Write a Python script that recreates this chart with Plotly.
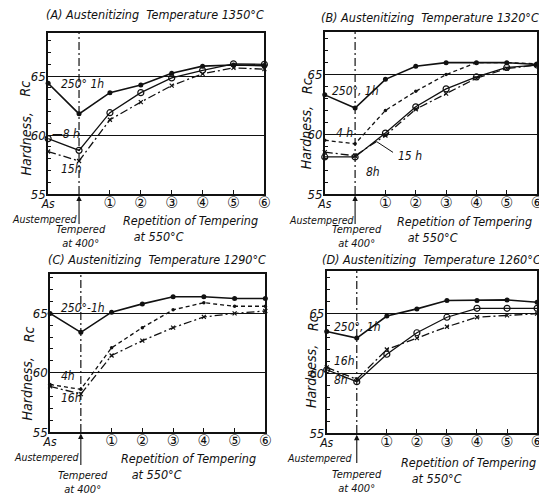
import plotly.graph_objects as go

# ---------------- data ----------------
stage_x = [0, 1, 2, 3, 4, 5, 6, 7]          # As austempered, tempered 400, repetitions 1..6
tick_vals = [0, 2, 3, 4, 5, 6, 7]
tick_labels = ["As", "①", "②", "③", "④", "⑤", "⑥"]

titles = [
    "(A) Austenitizing  Temperature 1350°C",
    "(B) Austenitizing  Temperature 1320°C",
    "(C) Austenitizing  Temperature 1290°C",
    "(D) Austenitizing  Temperature 1260°C",
]

A_1h = [64.4, 61.8, 63.6, 64.25, 65.25, 65.85, 65.95, 65.9]
A_8h = [59.7, 58.7, 61.9, 63.6, 64.85, 65.5, 66.05, 66.0]
A_15h = [58.6, 57.8, 61.3, 62.8, 64.2, 65.2, 65.7, 65.6]

B_1h = [63.3, 62.2, 64.6, 65.7, 66.0, 66.0, 66.0, 65.85]
B_4h = [59.5, 59.2, 62.0, 63.6, 65.0, 66.0, 66.0, 65.9]
B_8h = [58.1, 58.1, 60.1, 62.3, 63.8, 64.8, 65.6, 65.8]
B_16h = [58.5, 58.2, 59.9, 62.1, 63.4, 64.7, 65.5, 65.8]

C_1h = [65.0, 63.4, 65.1, 65.8, 66.4, 66.4, 66.25, 66.25]
C_4h = [59.0, 58.6, 62.1, 63.8, 65.3, 65.9, 65.6, 65.6]
C_16h = [58.85, 58.2, 61.45, 62.7, 63.8, 64.7, 65.0, 65.2]

D_1h = [63.5, 62.95, 64.8, 65.4, 66.1, 66.1, 66.15, 65.95]
D_8h = [60.3, 59.3, 61.6, 63.4, 64.7, 65.45, 65.45, 65.45]
D_16h = [60.5, 59.5, 62.0, 62.95, 63.9, 64.7, 64.85, 65.0]

# ---------------- page geometry (page body has an 8px margin) ----------------
OFF = 8
W, H = 547 - OFF, 503 - OFF


def fx(px):
    return (px - OFF) / W


def fy(py):
    return 1 - (py - OFF) / H


FONT = "DejaVu Sans Condensed, Liberation Sans Narrow, DejaVu Sans, sans-serif"
INK = "#111111"

tick_text = [t if t == "As" else '<span style="font-size:16px">' + t + "</span>" for t in tick_labels]

STY = {
    "1h":  dict(line=dict(color=INK, width=1.6, dash="solid"),
                marker=dict(symbol="circle", size=5, color=INK)),
    "8h":  dict(line=dict(color=INK, width=1.3, dash="solid"),
                marker=dict(symbol="circle-open", size=6, color=INK, line=dict(width=1.2))),
    "4h":  dict(line=dict(color=INK, width=1.3, dash="4px,3px"),
                marker=dict(symbol="circle", size=3.5, color=INK)),
    "16h": dict(line=dict(color=INK, width=1.3, dash="8px,3px,2px,3px"),
                marker=dict(symbol="x-thin", size=4, color=INK, line=dict(width=1.2, color=INK))),
}

# box = (left, right, top, bottom) in page pixels; text positions in page pixels
panels = [
    dict(series=[("1h", A_1h), ("8h", A_8h), ("16h", A_15h)],
         box=(41, 263, 33, 197), ytop=68.7,
         title=(151, 15), hard=(18, 146), rc=(17, 90), aust=(38, 222),
         temp=(75, 225), arrow_end=229, rep=(116, 214),
         labels=[("250° 1h", 0.35, 64.35), ("—8 h", 0.05, 60.1), ("15h", 0.35, 57.1)]),
    dict(series=[("1h", B_1h), ("4h", B_4h), ("8h", B_8h), ("16h", B_16h)],
         box=(325, 543, 32, 197), ytop=68.6,
         title=(433, 18), hard=(306, 140), rc=(306, 87), aust=(322, 223),
         temp=(358, 225), arrow_end=229, rep=(397, 215),
         labels=[("250°, 1h", 0.18, 63.6), ("4 h", 0.3, 60.1), ("15 h", 2.35, 58.2), ("8h", 1.3, 56.8)]),
    dict(series=[("1h", C_1h), ("4h", C_4h), ("16h", C_16h)],
         box=(43, 264, 278, 439), ytop=68.35,
         title=(153, 264), hard=(19, 395), rc=(21, 340), aust=(40, 464),
         temp=(77, 475), arrow_end=474, rep=(114, 456),
         labels=[("250°-1h", 0.3, 65.45), ("4h", 0.3, 59.7), ("16h", 0.3, 57.9)]),
    dict(series=[("1h", D_1h), ("8h", D_8h), ("16h", D_16h)],
         box=(327, 543, 275, 440), ytop=68.6,
         title=(435, 264), hard=(311, 383), rc=(313, 328), aust=(320, 465),
         temp=(358, 474), arrow_end=472, rep=(401, 460),
         labels=[("250°, 1h", 0.18, 63.9), ("16h", 0.18, 61.0), ("8h", 0.18, 59.4)]),
]

fig = go.Figure()
annotations = []
shapes = []
layout_axes = {}


def txt(text, px, py, size, xanchor="center", yanchor="middle", angle=0, align="center"):
    return dict(text=text, xref="paper", yref="paper", x=fx(px), y=fy(py),
                xanchor=xanchor, yanchor=yanchor, textangle=angle, align=align,
                showarrow=False,
                font=dict(family=FONT, size=size, color=INK, style="italic"))


for i, p in enumerate(panels):
    n = "" if i == 0 else str(i + 1)
    xa, ya = "x" + n, "y" + n
    yd = ya + " domain"
    x0, x1, y0, y1 = p["box"]
    for key, vals in p["series"]:
        s = STY[key]
        fig.add_trace(go.Scatter(x=stage_x, y=vals, mode="lines+markers",
                                 line=s["line"], marker=s["marker"],
                                 xaxis=xa, yaxis=ya, showlegend=False,
                                 cliponaxis=False, hoverinfo="skip"))
    layout_axes["xaxis" + n] = dict(
        domain=[fx(x0), fx(x1)], range=[0, 7], anchor=ya,
        tickvals=tick_vals, ticktext=tick_text, ticks="inside", ticklen=4,
        ticklabelstandoff=-2,
        tickcolor=INK, showgrid=False, zeroline=False,
        showline=True, mirror=True, linecolor=INK, linewidth=1.6,
        tickfont=dict(family=FONT, size=12, color=INK, style="italic"),
    )
    layout_axes["yaxis" + n] = dict(
        domain=[fy(y1), fy(y0)], range=[55, p["ytop"]], anchor=xa,
        tickvals=[55, 60, 65], ticks="inside", ticklen=4, tickcolor=INK,
        ticklabelstandoff=-2,
        showgrid=True, gridcolor=INK, gridwidth=1, zeroline=False,
        showline=True, mirror=True, linecolor=INK, linewidth=1.6,
        minor=dict(dtick=1, tick0=55, ticks="inside", ticklen=3, tickcolor=INK, showgrid=False),
        tickfont=dict(family=FONT, size=13, color=INK, style="italic"),
    )
    # vertical dash-dot line at "tempered at 400"
    shapes.append(dict(type="line", xref=xa, yref=yd, x0=1, x1=1, y0=0, y1=1,
                       line=dict(color=INK, width=1.2, dash="8px,3px,2px,3px")))
    # arrow below it
    ay = (y1 - p["arrow_end"]) / (y1 - y0)
    annotations.append(dict(text="", xref=xa, yref=yd, axref=xa, ayref=yd,
                            x=1, y=-0.01, ax=1, ay=ay, showarrow=True,
                            arrowhead=2, arrowsize=1, arrowwidth=1.1, arrowcolor=INK))
    annotations.append(txt(titles[i], *p["title"], 12.5))
    annotations.append(txt("Hardness,", *p["hard"], 14, angle=-90))
    annotations.append(txt("Rc", *p["rc"], 14, angle=-90))
    annotations.append(txt("Austempered", *p["aust"], 10.5))
    annotations.append(txt("Tempered<br>at 400°", *p["temp"], 11, yanchor="top"))
    annotations.append(txt("Repetition of Tempering<br>   at 550°C", *p["rep"], 12.5,
                           xanchor="left", yanchor="top", align="left"))
    # series labels
    for t, lx, ly in p["labels"]:
        annotations.append(dict(text=t, xref=xa, yref=ya, x=lx, y=ly,
                                xanchor="left", yanchor="middle", showarrow=False,
                                font=dict(family=FONT, size=12, color=INK, style="italic")))

# leader for "15 h" in panel B
annotations.append(dict(text="", xref="x2", yref="y2", axref="x2", ayref="y2",
                        x=1.7, y=59.4, ax=2.3, ay=58.4, showarrow=True,
                        arrowhead=0, arrowwidth=1, arrowcolor=INK))

fig.update_layout(
    width=W, height=H,
    margin=dict(l=0, r=0, t=0, b=0),
    paper_bgcolor="white", plot_bgcolor="white",
    annotations=annotations, shapes=shapes,
    font=dict(family=FONT, color=INK),
    **layout_axes,
)

fig.write_html("out.html")
